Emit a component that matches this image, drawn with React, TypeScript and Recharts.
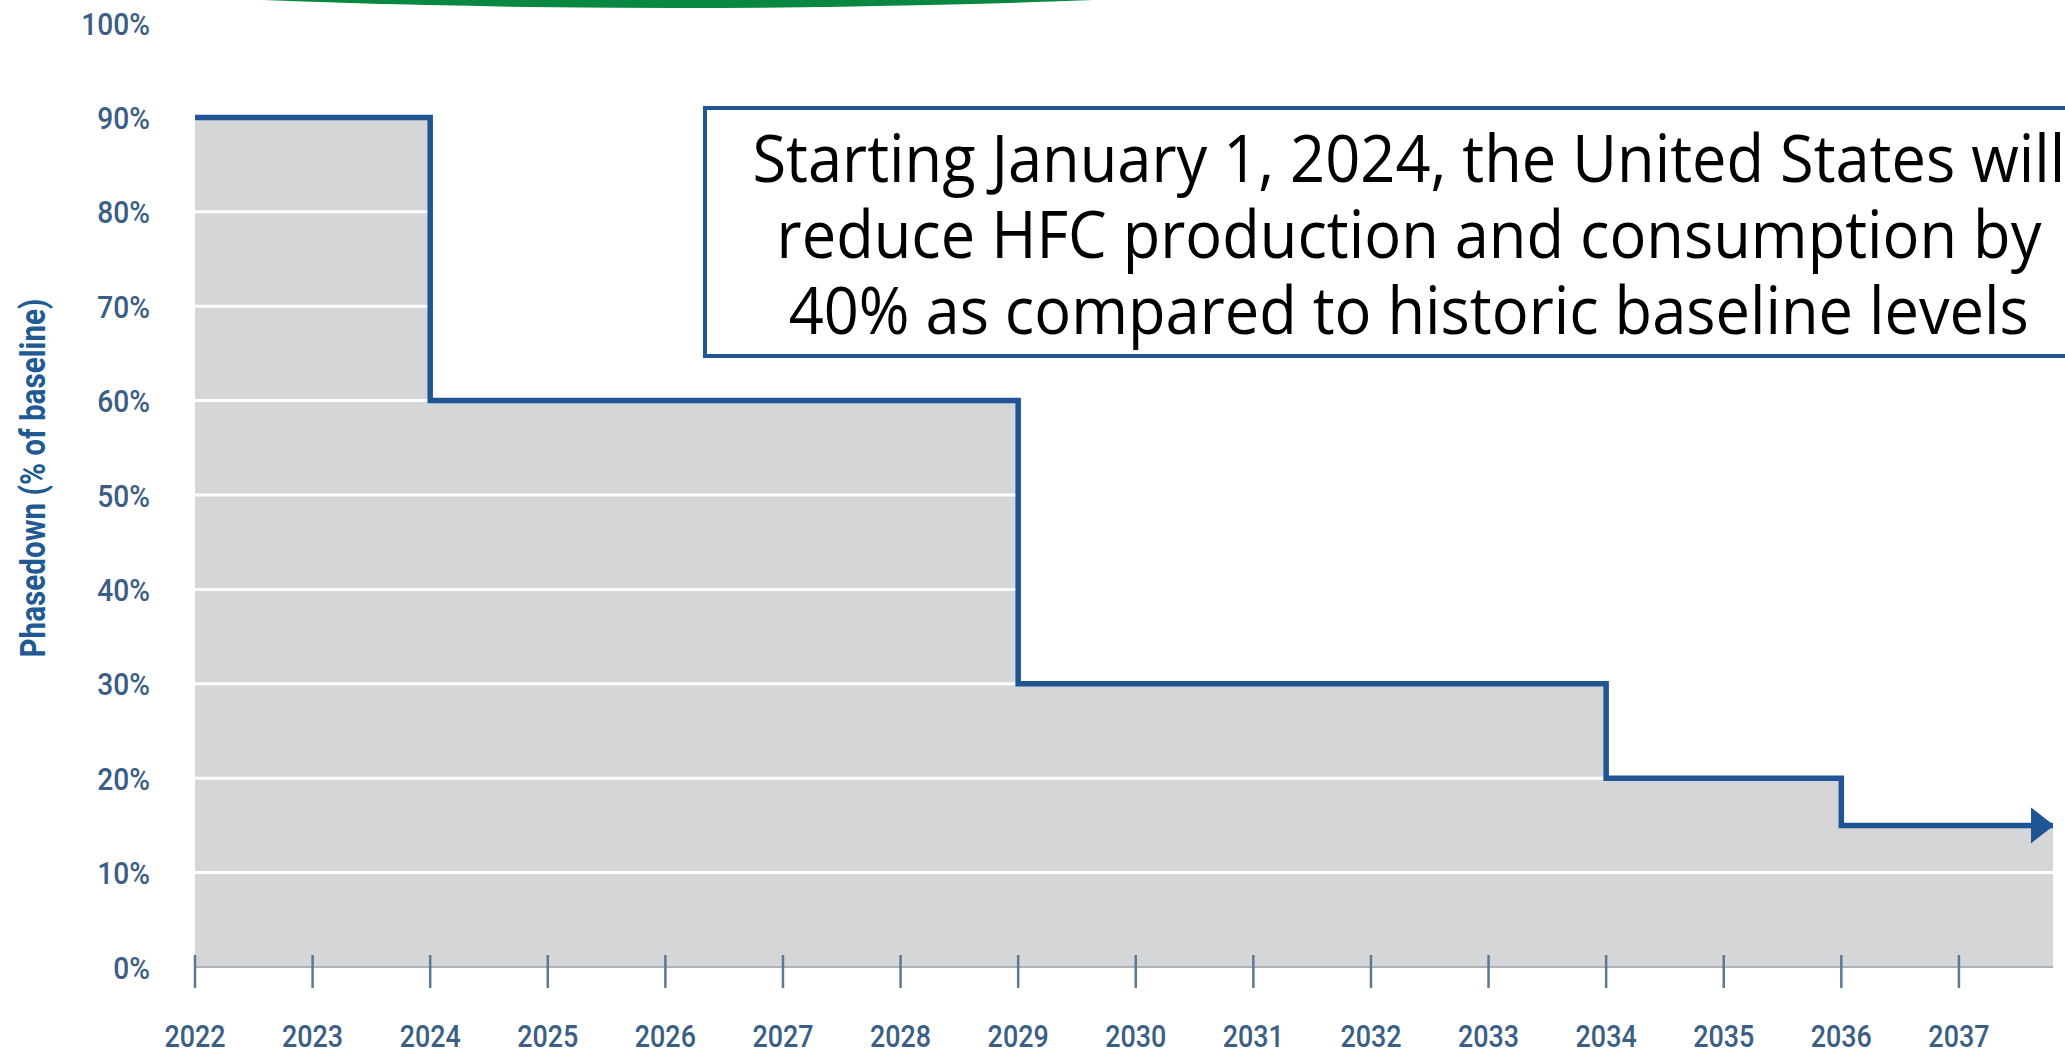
import React from 'react';
import { ComposedChart, Area, Line, XAxis, YAxis, ReferenceLine } from 'recharts';

// step points of the phasedown schedule (year the step starts, % of baseline)
const stepYears = [2022, 2024, 2029, 2034, 2036, 2037.8];
const phasedownPct = [90, 60, 30, 20, 15, 15];

const yearTicks = [2022, 2023, 2024, 2025, 2026, 2027, 2028, 2029, 2030, 2031, 2032, 2033, 2034, 2035, 2036, 2037];
const pctTicks = [0, 10, 20, 30, 40, 50, 60, 70, 80, 90, 100];

const noteLines = [
  'Starting January 1, 2024, the United States will',
  'reduce HFC production and consumption by',
  '40% as compared to historic baseline levels',
];

const BLUE = '#1f5593';
const FILL = '#d5d6d8';
const TICK_TEXT = '#3b5e84';
const FONT = 'Roboto, "Liberation Sans", sans-serif';

const data = stepYears.map((year, i) => ({ year, pct: phasedownPct[i] }));

// condensed-looking tick text: Roboto squeezed horizontally
const YearTick = (props: any) => {
  const { x, y, payload } = props;
  return (
    <g>
      <line x1={x} x2={x} y1={y - 12} y2={y + 21} stroke="#5b7895" strokeWidth={2.5} />
      <text
        transform={`translate(${x},${y + 80}) scale(0.84,1)`}
        textAnchor="middle"
        fill={TICK_TEXT}
        fontSize={32}
        fontWeight={500}
        fontFamily={FONT}
      >
        {payload.value}
      </text>
    </g>
  );
};

const PctTick = (props: any) => {
  const { x, y, payload } = props;
  return (
    <text
      transform={`translate(${x},${y}) scale(0.88,1)`}
      textAnchor="end"
      dy="0.36em"
      fill={TICK_TEXT}
      fontSize={32}
      fontWeight={500}
      fontFamily={FONT}
    >
      {`${payload.value}%`}
    </text>
  );
};

const AxisTitle = (props: any) => {
  const { viewBox } = props;
  const cx = viewBox.x + 33;
  const cy = viewBox.y + viewBox.height / 2 - 17;
  return (
    <text
      x={cx}
      y={cy}
      transform={`rotate(-90, ${cx}, ${cy})`}
      textAnchor="middle"
      dominantBaseline="central"
      textLength={359}
      lengthAdjust="spacingAndGlyphs"
      fill="#215a92"
      fontSize={35}
      fontWeight="bold"
      fontFamily={FONT}
    >
      Phasedown (% of baseline)
    </text>
  );
};

const renderArrow = (props: any) => {
  const { cx, cy, index } = props;
  if (index !== data.length - 1) return <g key={`d-${index}`} />;
  return (
    <polygon
      key={`d-${index}`}
      points={`${cx - 22},${cy - 18} ${cx + 1},${cy} ${cx - 22},${cy + 18}`}
      fill={BLUE}
    />
  );
};

export default function App() {
  return (
    <div
      style={{
        position: 'absolute',
        left: 0,
        top: 0,
        width: 2065,
        height: 1054,
        overflow: 'hidden',
        background: '#ffffff',
      }}
    >
      {/* green swoosh cut off at the top of the slide */}
      <div
        style={{
          position: 'absolute',
          left: 678 - 2550,
          top: 8 - 1200,
          width: 5100,
          height: 1200,
          borderRadius: '50%',
          background: '#0a8741',
        }}
      />

      <div style={{ position: 'absolute', left: 0, top: 0 }}>
        <ComposedChart
          width={2065}
          height={1054}
          data={data}
          margin={{ top: 23, right: 12, bottom: 7, left: 0 }}
        >
          <XAxis
            dataKey="year"
            type="number"
            domain={[2022, 2037.8]}
            ticks={yearTicks}
            allowDataOverflow
            axisLine={false}
            tickLine={false}
            tickSize={0}
            tickMargin={0}
            height={80}
            interval={0}
            tick={<YearTick />}
          />
          <YAxis
            type="number"
            domain={[0, 100]}
            ticks={pctTicks}
            width={195}
            axisLine={false}
            tickLine={false}
            tickSize={0}
            tickMargin={45}
            interval={0}
            tick={<PctTick />}
            label={<AxisTitle />}
          />
          <Area
            type="stepAfter"
            dataKey="pct"
            stroke="none"
            fill={FILL}
            fillOpacity={1}
            isAnimationActive={false}
            dot={false}
            activeDot={false}
          />
          <ReferenceLine y={0} stroke="#aeb3b9" strokeWidth={2} />
          {pctTicks
            .filter((v) => v > 0 && v < 100)
            .map((v) => (
              <ReferenceLine key={v} y={v} stroke="#ffffff" strokeWidth={3} />
            ))}
          <Line
            type="stepAfter"
            dataKey="pct"
            stroke={BLUE}
            strokeWidth={5.5}
            strokeLinejoin="miter"
            isAnimationActive={false}
            dot={renderArrow}
            activeDot={false}
          />
        </ComposedChart>
      </div>

      {/* annotation box */}
      <div
        style={{
          position: 'absolute',
          left: 703,
          top: 106,
          width: 1412,
          height: 252,
          boxSizing: 'border-box',
          border: `4px solid ${BLUE}`,
          background: '#ffffff',
          display: 'flex',
          flexDirection: 'column',
          justifyContent: 'center',
          alignItems: 'center',
          fontFamily: '"Open Sans", "Noto Sans", sans-serif',
          fontSize: 66,
          lineHeight: '76px',
          color: '#000000',
        }}
      >
        {noteLines.map((line) => (
          <div key={line} style={{ whiteSpace: 'nowrap', transform: 'scaleX(0.93)' }}>
            {line}
          </div>
        ))}
      </div>
    </div>
  );
}
